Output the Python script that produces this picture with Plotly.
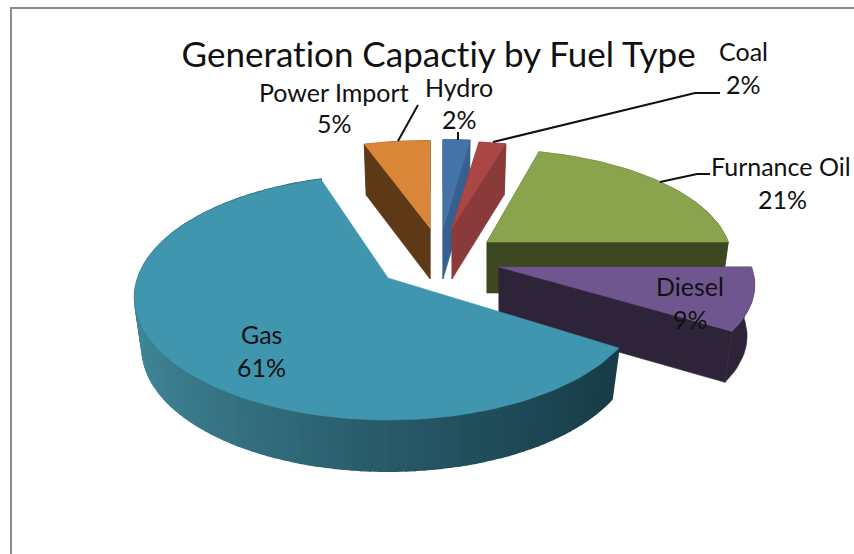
import math
import plotly.graph_objects as go

# Data
categories = ["Hydro", "Coal", "Furnance Oil", "Diesel", "Gas", "Power Import"]
shares = [2, 2, 21, 9, 61, 5]
chart_title = "Generation Capactiy by Fuel Type"

# Styles
top_colors = ["#4473a8", "#aa4644", "#8aa34d", "#70568f", "#4096ae", "#d98638"]
wall_colors = ["#36608f", "#8a3a3a", "#3e4820", "#2e2439", None, "#5e3917"]
gas_wall_left = (64, 134, 152)
gas_wall_right = (24, 60, 72)

# 3-D pie geometry (pixels)
CX, CY = 437, 250
RX, RY, K = 250, 119.4, 0.159
DEPTH = 51
BOTTOM_SCALE = 0.97
explode_dx = [6, 15, 50, 62, -49, -7]
explode_dy = [-22, -22, -8, 17, 28, -22]
scale_x = [1.0, 1.0, 0.965, 1.01, 1.0, 0.98]
scale_y = [0.86, 0.84, 0.9, 0.92, 1.0, 0.85]


def project(angle, tip, sx, sy):
    u, v = math.sin(angle), math.cos(angle)
    w = 1 + K * v
    return tip[0] + sx * RX * u / w, tip[1] - sy * RY * v / w


def poly(fig, pts, color, lw=0.6):
    fig.add_trace(go.Scatter(
        x=[p[0] for p in pts] + [pts[0][0]],
        y=[p[1] for p in pts] + [pts[0][1]],
        mode="lines", fill="toself", fillcolor=color,
        line=dict(color=color, width=lw), hoverinfo="skip", showlegend=False))


def mix(t):
    c = [round(a + (b - a) * t) for a, b in zip(gas_wall_left, gas_wall_right)]
    return "rgb(%d,%d,%d)" % tuple(c)


fig = go.Figure()
total = sum(shares)
cum = [sum(shares[:i]) for i in range(len(shares))]
order = [5, 0, 1, 2, 3, 4]
for i in order:
    a0 = 2 * math.pi * cum[i] / total
    a1 = 2 * math.pi * (cum[i] + shares[i]) / total
    tip = (CX + explode_dx[i], CY + explode_dy[i])
    n = max(4, int(shares[i] * 2))
    arc = [project(a0 + (a1 - a0) * j / n, tip, scale_x[i], scale_y[i]) for j in range(n + 1)]

    def down(p, tip=tip):
        return (tip[0] + (p[0] - tip[0]) * BOTTOM_SCALE, p[1] + DEPTH)

    if wall_colors[i]:
        poly(fig, [tip, arc[0], down(arc[0]), down(tip)], wall_colors[i])
        poly(fig, [tip, arc[-1], down(arc[-1]), down(tip)], wall_colors[i])
        poly(fig, arc + [down(p) for p in reversed(arc)], wall_colors[i])
    else:
        for a, b in zip(arc[:-1], arc[1:]):
            t = min(1, max(0, ((a[0] + b[0]) / 2 - 133) / 487)) ** 0.8
            poly(fig, [a, b, down(b), down(a)], mix(t), lw=2)
    poly(fig, [tip] + arc, top_colors[i])

# Text
FONT = "Lato, 'Open Sans', sans-serif"
INK = "#111111"
label_pos = {
    "Hydro": (459, 87, 459, 119), "Coal": (743, 51, 743, 84),
    "Furnance Oil": (781, 166, 782, 199), "Diesel": (690, 286, 690, 319),
    "Gas": (261, 334, 261, 367), "Power Import": (334, 92, 334, 123),
}
ann = [dict(x=438, y=53, text=chart_title, showarrow=False,
            font=dict(family=FONT, size=35, color=INK))]
for name, val in zip(categories, shares):
    x1, y1, x2, y2 = label_pos[name]
    ann.append(dict(x=x1, y=y1, text=name, showarrow=False,
                    font=dict(family=FONT, size=25, color=INK)))
    ann.append(dict(x=x2, y=y2, text=f"{val}%", showarrow=False,
                    font=dict(family=FONT, size=25, color=INK)))

leaders = [
    [(418, 105), (398, 141)],
    [(458, 132), (458, 140)],
    [(493, 142), (695, 93), (720, 93)],
    [(660, 182), (697, 174), (710, 174)],
]
shapes = []
for path in leaders:
    d = "M " + " L ".join(f"{x} {y}" for x, y in path)
    shapes.append(dict(type="path", path=d, line=dict(color="#111111", width=2)))
# Chart frame (runs off the image right and bottom)
shapes.append(dict(type="path", path="M 11 554 L 11 8 L 854 8",
                   line=dict(color="#8c8c8c", width=2)))

fig.update_layout(
    width=854, height=554, margin=dict(l=0, r=0, t=0, b=0),
    paper_bgcolor="white", plot_bgcolor="white", showlegend=False,
    xaxis=dict(range=[0, 854], visible=False, fixedrange=True),
    yaxis=dict(range=[554, 0], visible=False, fixedrange=True),
    annotations=ann, shapes=shapes,
)
fig.write_html(
    "out.html", config={"displayModeBar": False},
    post_script=(
        "document.body.style.margin='0';document.body.style.overflow='hidden';"
        "var s=document.createElement('style');"
        "s.textContent='svg text{font-variant-ligatures:none !important;"
        "font-feature-settings:\"liga\" 0,\"clig\" 0,\"dlig\" 0 !important;"
        "text-rendering:optimizeSpeed !important}';"
        "document.head.appendChild(s);"
    ),
)
